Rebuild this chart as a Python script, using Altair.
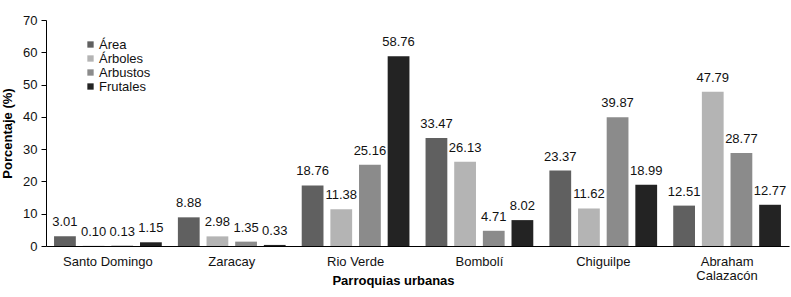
import altair as alt
import pandas as pd

parroquias = ["Santo Domingo", "Zaracay", "Rio Verde", "Bombolí", "Chiguilpe", "Abraham Calazacón"]
series = ["Área", "Árboles", "Arbustos", "Frutales"]
area = [3.01, 8.88, 18.76, 33.47, 23.37, 12.51]
arboles = [0.10, 2.98, 11.38, 26.13, 11.62, 47.79]
arbustos = [0.13, 1.35, 25.16, 4.71, 39.87, 28.77]
frutales = [1.15, 0.33, 58.76, 8.02, 18.99, 12.77]
colors = ["#606060", "#b4b4b4", "#8b8b8b", "#232323"]
y_ticks = [0, 10, 20, 30, 40, 50, 60, 70]

values = {"Área": area, "Árboles": arboles, "Arbustos": arbustos, "Frutales": frutales}
rows = []
for s in series:
    for p, v in zip(parroquias, values[s]):
        rows.append({"Parroquia": p, "Serie": s, "Valor": v, "Etiqueta": f"{v:.2f}"})
df = pd.DataFrame(rows)

FONT = "Liberation Sans"

base = alt.Chart(df).encode(
    x=alt.X(
        "Parroquia:N",
        sort=parroquias,
        scale=alt.Scale(paddingInner=0.13, paddingOuter=0.065),
        axis=alt.Axis(
            title="Parroquias urbanas",
            titleFontWeight="bold",
            titleFontSize=13,
            titleFont=FONT,
            titleColor="#000000",
            titleX=347,
            titleY=28,
            titleAlign="center",
            titleBaseline="top",
            labelAngle=0,
            labelFontSize=13,
            labelFont=FONT,
            labelColor="#111111",
            labelBaseline="middle",
            labelPadding=15,
            labelLineHeight=14,
            labelExpr="datum.value == 'Abraham Calazacón' ? ['Abraham', 'Calazacón'] : datum.label",
            ticks=False,
            domainColor="#000000",
            domainWidth=1,
        ),
    ),
    xOffset=alt.XOffset("Serie:N", sort=series, scale=alt.Scale(paddingInner=0.24, paddingOuter=0)),
    y=alt.Y(
        "Valor:Q",
        scale=alt.Scale(domain=[0, 70], nice=False),
        axis=alt.Axis(
            values=y_ticks,
            title="Porcentaje (%)",
            titleFontWeight="bold",
            titleFontSize=13,
            titleFont=FONT,
            titleColor="#000000",
            titlePadding=8,
            grid=False,
            tickSize=5,
            tickColor="#000000",
            domainColor="#000000",
            labelPadding=4,
            labelFontSize=13,
            labelFont=FONT,
            labelColor="#111111",
        ),
    ),
)

bars = base.mark_bar().encode(
    color=alt.Color(
        "Serie:N",
        sort=series,
        scale=alt.Scale(domain=series, range=colors),
        legend=alt.Legend(
            title=None,
            orient="none",
            legendX=38,
            legendY=18,
            symbolType="square",
            symbolSize=40,
            symbolStrokeWidth=0,
            labelFontSize=13,
            labelFont=FONT,
            labelColor="#111111",
            labelOffset=2,
            rowPadding=0,
        ),
    )
)

labels = base.mark_text(dy=-10, baseline="alphabetic", fontSize=13, font=FONT, color="#111111").encode(
    text="Etiqueta:N"
)

chart = (
    alt.layer(bars, labels)
    .properties(
        width=743,
        height=226,
        autosize=alt.AutoSizeParams(type="none"),
        padding={"left": 46, "top": 20, "right": 2, "bottom": 51},
        background="white",
    )
    .configure_view(stroke=None)
)

chart.save("out.html", embed_options={"renderer": "svg", "actions": False})
